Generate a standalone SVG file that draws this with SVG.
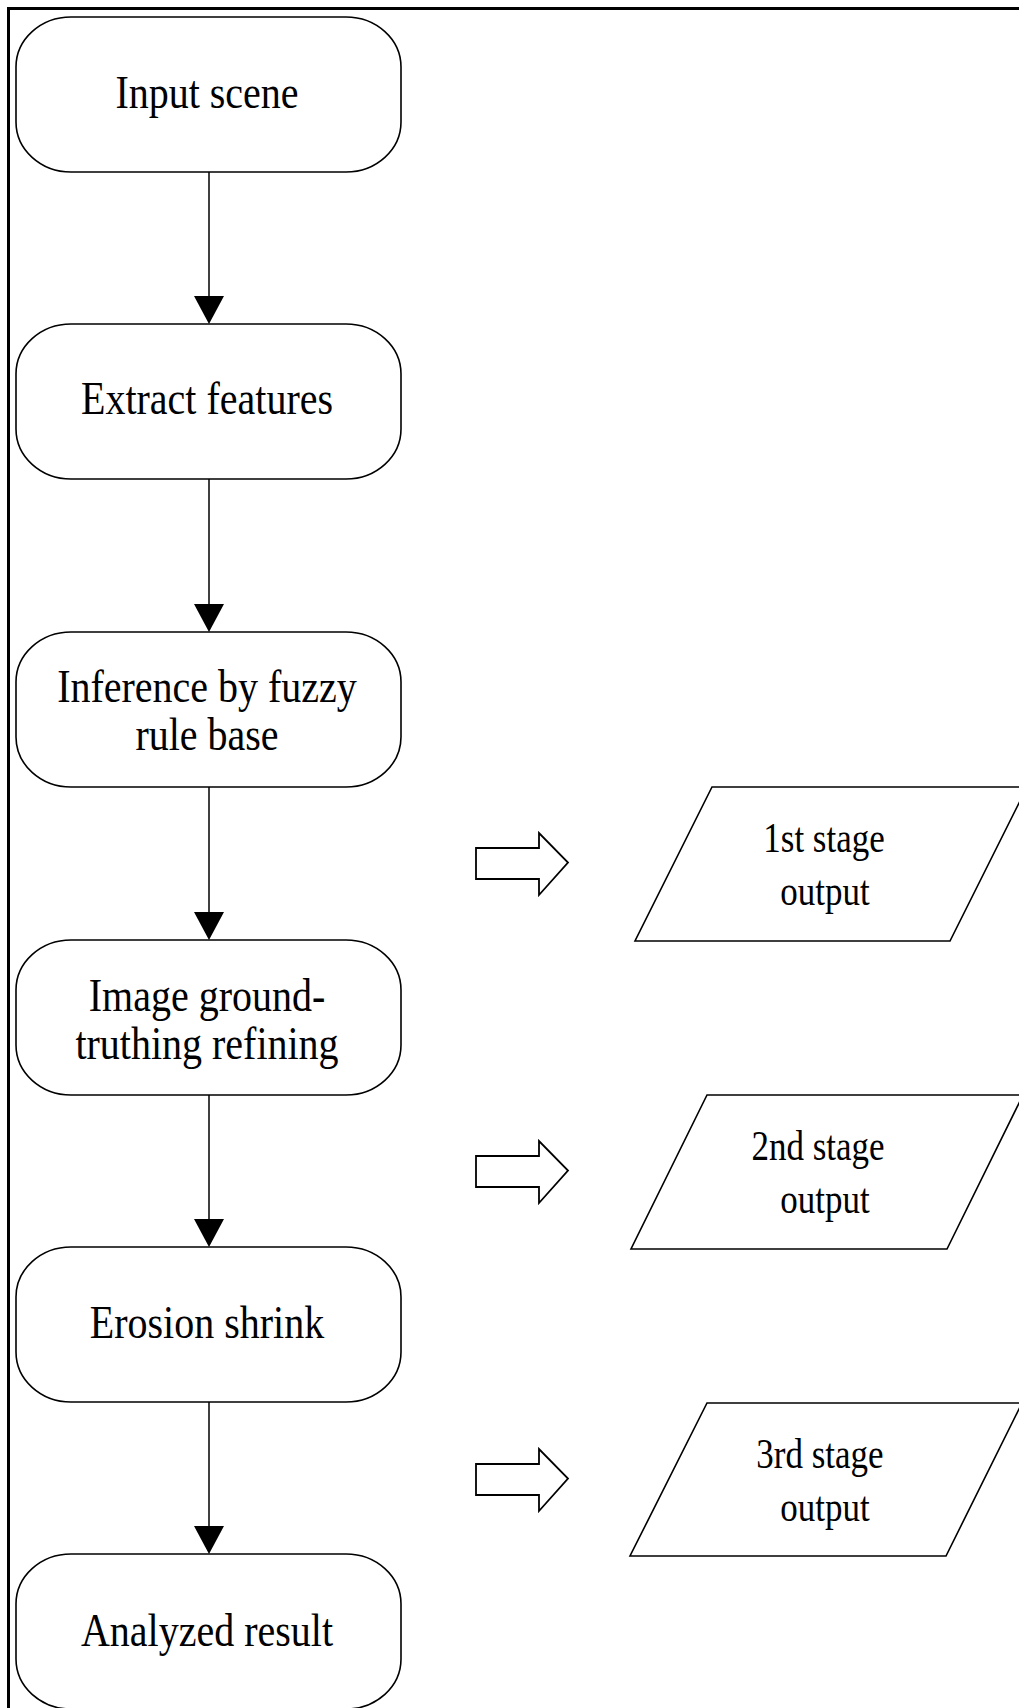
<svg xmlns="http://www.w3.org/2000/svg" width="1019" height="1708" viewBox="0 0 1019 1708">
<style>
.frame{stroke:#000;stroke-width:3;fill:none}
.node{fill:#fff;stroke:#000;stroke-width:1.6}
.out{fill:#fff;stroke:#000;stroke-width:1.6}
.conn{stroke:#000;stroke-width:1.5;fill:none}
.head{fill:#000;stroke:none}
.blk{fill:#fff;stroke:#000;stroke-width:1.8}
.t{font-family:"Liberation Serif","Times New Roman",serif;font-size:40px;fill:#000;text-anchor:middle}
.to{font-family:"Liberation Serif","Times New Roman",serif;font-size:35px;fill:#000;text-anchor:middle}
</style>
<rect x="0" y="0" width="1019" height="1708" fill="#fff"/>
<g id="frame">
<line class="frame" x1="7" y1="8.5" x2="1019" y2="8.5"/>
<line class="frame" x1="8.5" y1="7" x2="8.5" y2="1708"/>
</g>
<g id="connectors">
<line class="conn" x1="209" y1="172" x2="209" y2="300"/>
<polygon class="head" points="194,296 224,296 209,324"/>
<line class="conn" x1="209" y1="479" x2="209" y2="608"/>
<polygon class="head" points="194,604 224,604 209,632"/>
<line class="conn" x1="209" y1="787" x2="209" y2="916"/>
<polygon class="head" points="194,912 224,912 209,940"/>
<line class="conn" x1="209" y1="1095" x2="209" y2="1223"/>
<polygon class="head" points="194,1219 224,1219 209,1247"/>
<line class="conn" x1="209" y1="1402" x2="209" y2="1530"/>
<polygon class="head" points="194,1526 224,1526 209,1554"/>
<path class="blk" d="M476,848 H539 V833 L568,862.5 L539,895 V879 H476 Z"/>
<path class="blk" d="M476,1156 H539 V1141 L568,1170.5 L539,1203 V1187 H476 Z"/>
<path class="blk" d="M476,1464 H539 V1449 L568,1478.5 L539,1511 V1495 H476 Z"/>
</g>
<g id="n1">
<rect class="node" x="16" y="17" width="385" height="155" rx="55" ry="50"/>
<text class="t" transform="translate(207,108) scale(1,1.15)">Input scene</text>
</g>
<g id="n2">
<rect class="node" x="16" y="324" width="385" height="155" rx="55" ry="50"/>
<text class="t" transform="translate(207,414) scale(1,1.15)">Extract features</text>
</g>
<g id="n3">
<rect class="node" x="16" y="632" width="385" height="155" rx="55" ry="50"/>
<text class="t" transform="translate(207,702) scale(1,1.15)"><tspan x="0" y="0">Inference by fuzzy</tspan><tspan x="0" y="41.7">rule base</tspan></text>
</g>
<g id="n4">
<rect class="node" x="16" y="940" width="385" height="155" rx="55" ry="50"/>
<text class="t" transform="translate(207,1011) scale(1,1.15)"><tspan x="0" y="0">Image ground-</tspan><tspan x="0" y="41.7">truthing refining</tspan></text>
</g>
<g id="n5">
<rect class="node" x="16" y="1247" width="385" height="155" rx="55" ry="50"/>
<text class="t" transform="translate(207,1338) scale(1,1.15)">Erosion shrink</text>
</g>
<g id="n6">
<rect class="node" x="16" y="1554" width="385" height="155" rx="55" ry="50"/>
<text class="t" transform="translate(207,1646) scale(1,1.15)">Analyzed result</text>
</g>
<g id="o1">
<polygon class="out" points="712,787 1027,787 950,941 635,941"/>
<text class="to" transform="translate(824,852) scale(1,1.2)"><tspan x="0" y="0">1st stage</tspan><tspan x="1" y="44">output</tspan></text>
</g>
<g id="o2">
<polygon class="out" points="707,1095 1023,1095 947,1249 631,1249"/>
<text class="to" transform="translate(818,1160) scale(1,1.2)"><tspan x="0" y="0">2nd stage</tspan><tspan x="7" y="44">output</tspan></text>
</g>
<g id="o3">
<polygon class="out" points="707,1403 1022,1403 946,1556 630,1556"/>
<text class="to" transform="translate(820,1468) scale(1,1.2)"><tspan x="0" y="0">3rd stage</tspan><tspan x="5" y="44">output</tspan></text>
</g>
</svg>
